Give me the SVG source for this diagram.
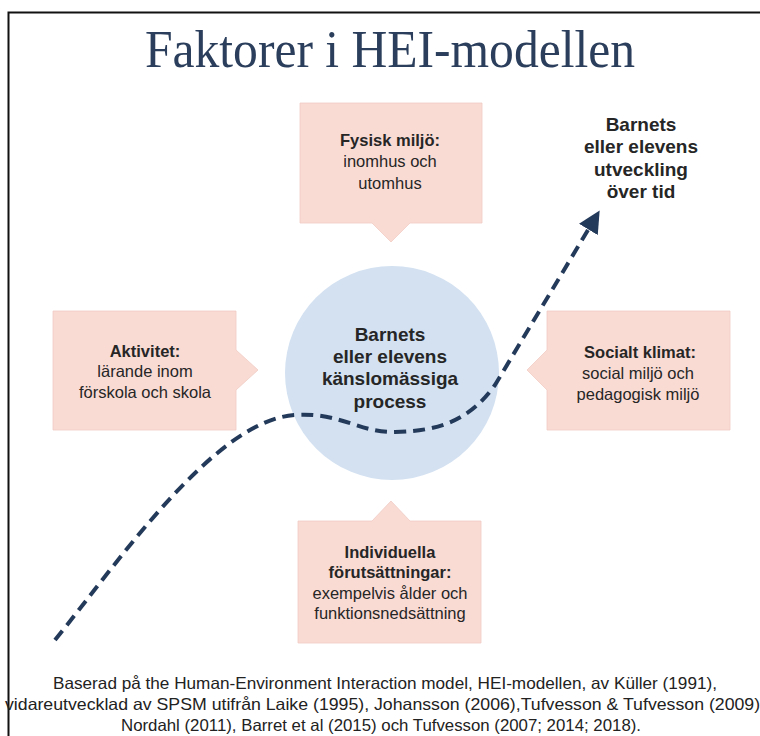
<svg xmlns="http://www.w3.org/2000/svg" width="760" height="736" viewBox="0 0 760 736">
<style>
.box{fill:#fadbd4;stroke:#f0ccc4;stroke-width:0.8}
.t{font-family:"Liberation Sans",Arial,sans-serif;fill:#262626;text-anchor:middle}
.b{font-weight:bold}
.s{font-size:16.5px}
.c{font-size:19px;font-weight:bold}
.ref{font-family:"Liberation Sans",Arial,sans-serif;font-size:16.5px;fill:#222;text-anchor:middle}
</style>
<defs>
<marker id="arr" viewBox="0 0 10 10" refX="5" refY="5" markerWidth="5.5" markerHeight="5.5" markerUnits="strokeWidth" orient="auto">
<path d="M0,0 L10,5 L0,10 z" fill="#243a5a"/>
</marker>
</defs>
<rect x="0" y="0" width="760" height="736" fill="#fff"/>
<rect x="8.5" y="12.5" width="780" height="760" fill="none" stroke="#111" stroke-width="2"/>
<text x="390" y="67" font-family="Liberation Serif,serif" font-size="53" fill="#2b3f5c" text-anchor="middle" textLength="490" lengthAdjust="spacingAndGlyphs">Faktorer i HEI-modellen</text>

<g id="circle">
<circle cx="392" cy="373" r="107" fill="#d3e1f1"/>
<text class="t c" x="390" y="341">Barnets</text>
<text class="t c" x="390" y="363">eller elevens</text>
<text class="t c" x="390" y="385">känslomässiga</text>
<text class="t c" x="390" y="408">process</text>
</g>

<g id="fysisk">
<path class="box" d="M300,103 H482 V223 H410 L391,242 L372,223 H300 Z"/>
<text class="t s b" x="390" y="146">Fysisk miljö:</text>
<text class="t s" x="390" y="167">inomhus och</text>
<text class="t s" x="390" y="189">utomhus</text>
</g>

<g id="aktivitet">
<path class="box" d="M53,311 H236 V350 L258,370 L236,390 V430 H53 Z"/>
<text class="t s b" x="145" y="357">Aktivitet:</text>
<text class="t s" x="145" y="377">lärande inom</text>
<text class="t s" x="145" y="398">förskola och skola</text>
</g>

<g id="socialt">
<path class="box" d="M547,311 H730 V430 H547 V390 L527,370 L547,350 Z"/>
<text class="t s b" x="640" y="358">Socialt klimat:</text>
<text class="t s" x="638" y="379">social miljö och</text>
<text class="t s" x="638" y="400">pedagogisk miljö</text>
</g>

<g id="individuella">
<path class="box" d="M298,521 H372 L391,501 L410,521 H481 V643 H298 Z"/>
<text class="t s b" x="390" y="558">Individuella</text>
<text class="t s b" x="390" y="578">förutsättningar:</text>
<text class="t s" x="390" y="599">exempelvis ålder och</text>
<text class="t s" x="390" y="619">funktionsnedsättning</text>
</g>

<g id="utveckling">
<text class="t c" x="641" y="131">Barnets</text>
<text class="t c" x="641" y="153">eller elevens</text>
<text class="t c" x="641" y="176">utveckling</text>
<text class="t c" x="641" y="198">över tid</text>
</g>

<g id="connectors">
<path d="M55,640 C120,560 215,420 295,415 C340,412 360,433 395,432 C440,431 470,420 495,385 L594,220" fill="none" stroke="#243a5a" stroke-width="4" stroke-dasharray="12,7" marker-end="url(#arr)"/>
</g>

<text class="ref" x="385" y="689" textLength="664" lengthAdjust="spacingAndGlyphs">Baserad på the Human-Environment Interaction model, HEI-modellen, av Küller (1991),</text>
<text class="ref" x="385" y="710" textLength="760" lengthAdjust="spacingAndGlyphs">vidareutvecklad av SPSM utifrån Laike (1995), Johansson (2006),Tufvesson &amp; Tufvesson (2009),</text>
<text class="ref" x="381" y="731" textLength="520" lengthAdjust="spacingAndGlyphs">Nordahl (2011), Barret et al (2015) och Tufvesson (2007; 2014; 2018).</text>
</svg>
